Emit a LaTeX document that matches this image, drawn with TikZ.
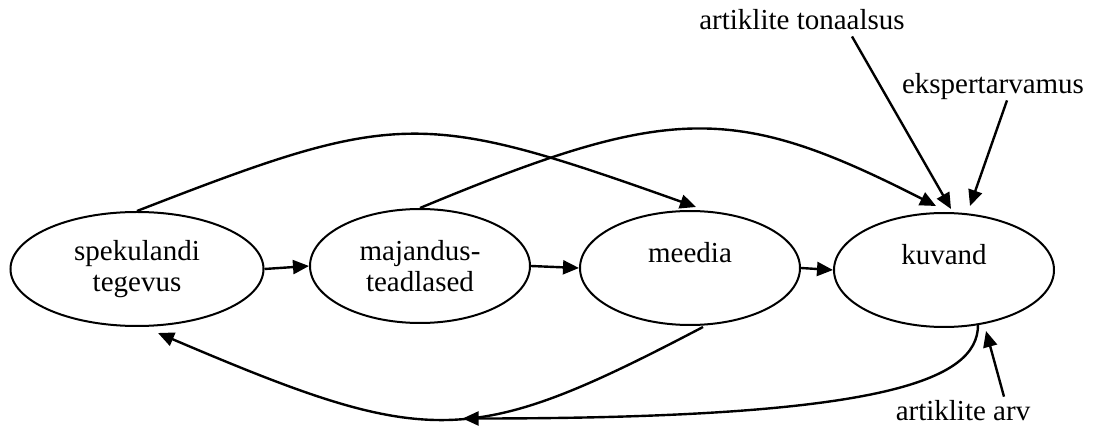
\documentclass[tikz,border=0pt]{standalone}
\usepackage{fontspec}
\setmainfont{Liberation Serif}
\usetikzlibrary{shapes.geometric,arrows.meta,calc}
\begin{document}
\begin{tikzpicture}[x=1pt,y=-1pt,
  oval/.style={draw, line width=2pt, ellipse, inner sep=0pt, minimum height=114pt,
    align=center, font=\fontsize{29}{31}\selectfont},
  lbl/.style={inner sep=0pt, font=\fontsize{29}{31}\selectfont, anchor=base},
  conn/.style={line width=2.4pt, -{Triangle[length=16pt,width=14pt]}}]
\useasboundingbox (0,0) rectangle (1093,427);
\node[oval, minimum width=253pt] (s) at (137,269) {spekulandi\\tegevus};
\node[oval, minimum width=220pt] (e) at (420,266) {majandus-\\teadlased};
\node[oval, minimum width=220pt] (m) at (690,268) {meedia\\\mbox{}};
\node[oval, minimum width=220pt] (k) at (944,270) {kuvand\\\mbox{}};
\node[lbl] (ton) at (802,30) {artiklite tonaalsus};
\node[lbl] (eks) at (993,94) {ekspertarvamus};
\node[lbl] (arv) at (963,421) {artiklite arv};
% straight chain
\draw[conn] (s.east) -- (e.west);
\draw[conn] (e.east) -- (m.west);
\draw[conn] (m.east) -- (k.west);
% top curves
\draw[conn] (s.north) .. controls +(260,-101) and +(-275,-98) .. ($(m.north)+(6,-3)$);
\draw[conn] (e.north) .. controls +(250,-104) and +(-202,-103) .. ($(k.north)+(-8,-6)$);
% input arrows
\draw[conn] ($(ton.south)+(50,6)$) -- ($(k.north)+(7,-3)$);
\draw[conn] ($(eks.south)+(14,0)$) -- ($(k.north)+(26,-6)$);
\draw[conn] ($(arv.north)+(41,-4)$) -- ($(k.south)+(42,3)$);
% bottom curves
\draw[conn] ($(m.south)+(13,1)$) .. controls +(-233,122) and +(272,116) .. ($(s.south)+(21,6)$)
  coordinate[pos=0.46] (low);
\draw[conn] ($(k.south)+(34,-3)$) .. controls +(0,56) and +(418,0) .. (low);
\end{tikzpicture}
\end{document}
